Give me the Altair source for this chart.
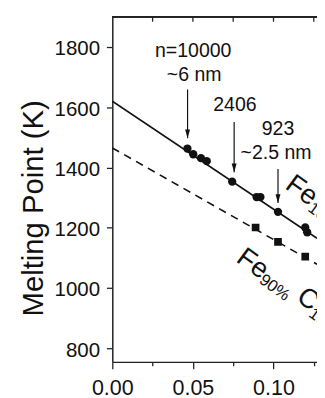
import altair as alt
import pandas as pd

# ---- data ----
circ_x = [0.0466, 0.0502, 0.0550, 0.0586, 0.0744, 0.0895, 0.0919, 0.1028, 0.1197, 0.1209]
circ_y = [1463, 1444, 1431, 1421, 1353, 1302, 1302, 1253, 1201, 1185]
sq_x = [0.0889, 0.1028, 0.1197]
sq_y = [1201, 1153, 1104]
fit_x = [0.0, 0.127]
fit_solid = [1620, 1165]
fit_dash = [1465, 1079]

arrow_x = [0.0467, 0.0756, 0.1028]
arrow_top = [1659, 1551, 1395]
arrow_tip = [1497, 1384, 1282]

ann_text = ["n=10000", "~6 nm", "2406", "923", "~2.5 nm"]
ann_x = [0.0502, 0.0508, 0.0761, 0.1028, 0.0796]
ann_y = [1767, 1686, 1589, 1508, 1427]
ann_align = ["center", "center", "center", "center", "left"]

lab_text = ["Fe", "90%", "C", "10%", "Fe", "100%"]
lab_x = [0.0762, 0.0905, 0.1135, 0.1212, 0.1066, 0.1208]
lab_y = [1090, 1020, 960, 908, 1333, 1258]
lab_size = [28, 17, 28, 17, 28, 17]

x_ticks = [0.0, 0.025, 0.05, 0.075, 0.10, 0.125]
y_ticks = [800, 900, 1000, 1100, 1200, 1300, 1400, 1500, 1600, 1700, 1800]
top_ticks = [0.025, 0.05, 0.075, 0.10, 0.125]

FONT = "Liberation Sans"
INK = "#111111"
AX = "#222222"

xs = alt.Scale(domain=[0, 0.127], nice=False, zero=False)
ys = alt.Scale(domain=[755, 1900], nice=False, zero=False)

x_axis = alt.Axis(
    values=x_ticks, format=".2f", title=None, grid=False, labelFlush=False,
    labelExpr="abs(datum.value*20 - round(datum.value*20)) < 0.001 ? datum.label : ''",
    tickSize={"condition": {"test": "abs(datum.value*20 - round(datum.value*20)) < 0.001", "value": 7}, "value": 4},
    labelFont=FONT, labelFontSize=22, labelColor=INK, labelPadding=9,
    domainColor=AX, tickColor=AX, domainWidth=1.5, tickWidth=1.3,
)
y_axis = alt.Axis(
    values=y_ticks, format="d", grid=False, labelFlush=False,
    labelExpr="datum.value % 200 == 0 ? datum.label : ''",
    tickSize={"condition": {"test": "datum.value % 200 == 0", "value": 6}, "value": 3},
    labelFont=FONT, labelFontSize=21, labelColor=INK, labelPadding=7, labelOffset=2,
    domainColor=AX, tickColor=AX, domainWidth=1.5, tickWidth=1.3,
    title="Melting Point (K)", titleFont=FONT, titleFontSize=30, titleFontWeight="normal",
    titleColor=INK, titleAngle=270, titleX=-71.5, titleY=196, titleAlign="center",
    titleBaseline="alphabetic",
)

df_fit = pd.DataFrame({"x": fit_x, "solid": fit_solid, "dash": fit_dash})
df_c = pd.DataFrame({"x": circ_x, "y": circ_y})
df_s = pd.DataFrame({"x": sq_x, "y": sq_y})
df_a = pd.DataFrame({"x": arrow_x, "top": arrow_top, "tip": arrow_tip})
df_t = pd.DataFrame({"x": ann_x, "y": ann_y, "t": ann_text, "al": ann_align})
df_l = pd.DataFrame({"x": lab_x, "y": lab_y, "t": lab_text, "fs": lab_size})
df_top = pd.DataFrame({"x": top_ticks})

solid = alt.Chart(df_fit).mark_line(color=INK, strokeWidth=1.7, clip=True).encode(
    x=alt.X("x:Q", scale=xs, axis=x_axis),
    y=alt.Y("solid:Q", scale=ys, axis=y_axis),
)
dash = alt.Chart(df_fit).mark_line(color=INK, strokeWidth=1.6, strokeDash=[8, 6], clip=True).encode(
    x=alt.X("x:Q", scale=xs), y=alt.Y("dash:Q", scale=ys)
)
circles = alt.Chart(df_c).mark_point(shape="circle", filled=True, color=INK, size=72, opacity=1, clip=True).encode(
    x=alt.X("x:Q", scale=xs), y=alt.Y("y:Q", scale=ys)
)
squares = alt.Chart(df_s).mark_point(shape="square", filled=True, color=INK, size=62, opacity=1, clip=True).encode(
    x=alt.X("x:Q", scale=xs), y=alt.Y("y:Q", scale=ys)
)
shafts = alt.Chart(df_a).mark_rule(color=INK, strokeWidth=1.2, clip=True).encode(
    x=alt.X("x:Q", scale=xs), y=alt.Y("top:Q", scale=ys), y2="tip:Q"
)
heads = alt.Chart(df_a).mark_point(shape="M0,0L-0.28,-1L0.28,-1Z", filled=True, color=INK,
                                   size=324, opacity=1, clip=True).encode(
    x=alt.X("x:Q", scale=xs), y=alt.Y("tip:Q", scale=ys)
)
ann_c = alt.Chart(df_t[df_t.al == "center"]).mark_text(
    font=FONT, fontSize=20, color=INK, align="center", baseline="alphabetic", clip=True
).encode(x=alt.X("x:Q", scale=xs), y=alt.Y("y:Q", scale=ys), text="t:N")
ann_l = alt.Chart(df_t[df_t.al == "left"]).mark_text(
    font=FONT, fontSize=20, color=INK, align="left", baseline="alphabetic", clip=True
).encode(x=alt.X("x:Q", scale=xs), y=alt.Y("y:Q", scale=ys), text="t:N")
labels = alt.Chart(df_l).mark_text(
    font=FONT, color=INK, align="left", baseline="alphabetic", angle=36, clip=True
).encode(x=alt.X("x:Q", scale=xs), y=alt.Y("y:Q", scale=ys), text="t:N",
         size=alt.Size("fs:Q", scale=None, legend=None))
# top frame line and inward ticks
top_line = alt.Chart(df_top).mark_rule(color=AX, strokeWidth=1.5).encode(
    x=alt.value(0), x2=alt.value(210), y=alt.value(0)
)
top_t = alt.Chart(df_top).mark_rule(color=AX, strokeWidth=1.3).encode(
    x=alt.X("x:Q", scale=xs), y=alt.value(0), y2=alt.value(5)
)

chart = alt.layer(solid, dash, shafts, heads, circles, squares, ann_c, ann_l, labels, top_line, top_t).properties(
    width=210, height=354,
    autosize=alt.AutoSizeParams(type="none"),
    padding={"left": 107, "top": 4, "right": 0, "bottom": 32},
).configure_view(stroke=None).configure(background="white")

chart.save("out.html", embed_options={"renderer": "svg", "actions": False})
